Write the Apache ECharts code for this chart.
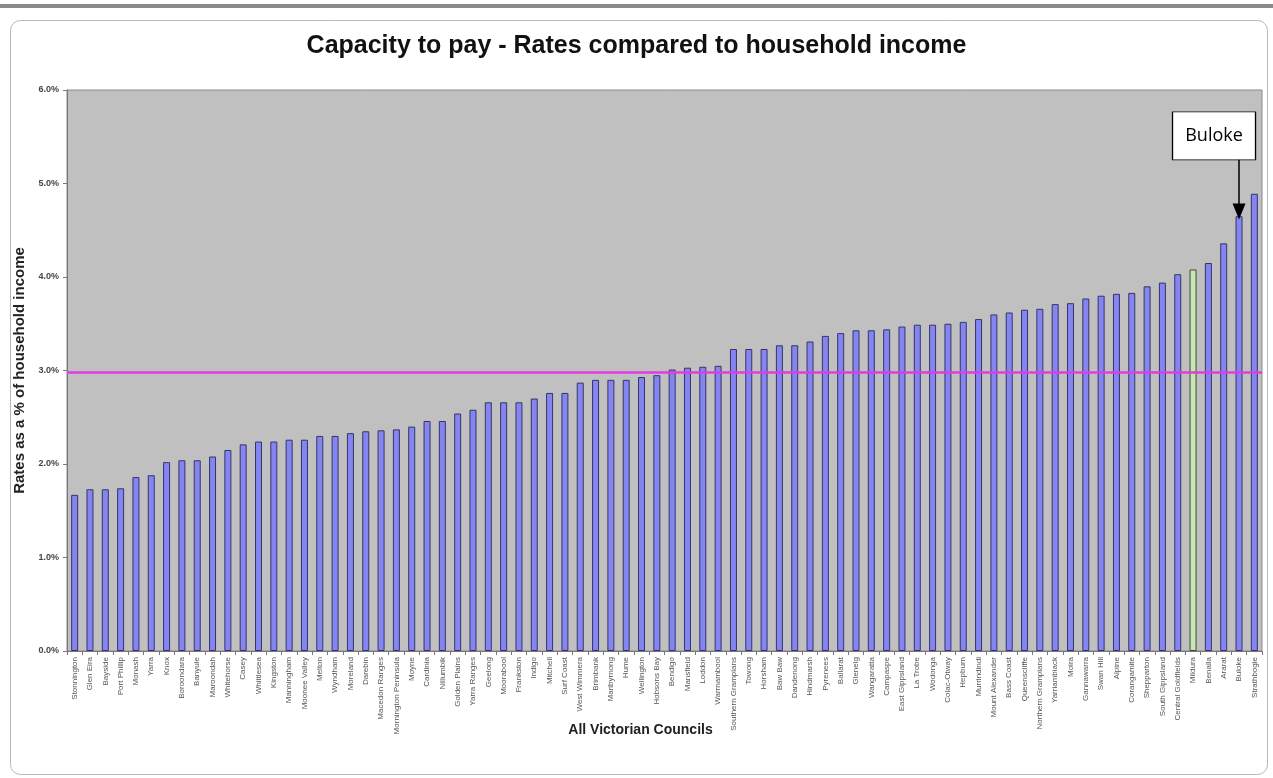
<!DOCTYPE html>
<html>
<head>
<meta charset="utf-8">
<title>Capacity to pay - Rates compared to household income</title>
<script src="https://cdn.jsdelivr.net/npm/echarts@6/dist/echarts.min.js"></script>
<style>
  html, body { margin: 0; padding: 0; background: #ffffff; }
  #chart { width: 1273px; height: 778px; }
</style>
</head>
<body>
<div id="chart"></div>
<script>
// Councils, ordered from lowest to highest rate burden
const councils = [
  'Stonnington', 'Glen Eira', 'Bayside', 'Port Phillip', 'Monash', 'Yarra', 'Knox',
  'Boroondara', 'Banyule', 'Maroondah', 'Whitehorse', 'Casey', 'Whittlesea', 'Kingston',
  'Manningham', 'Moonee Valley', 'Melton', 'Wyndham', 'Moreland', 'Darebin',
  'Macedon Ranges', 'Mornington Peninsula', 'Moyne', 'Cardinia', 'Nillumbik',
  'Golden Plains', 'Yarra Ranges', 'Geelong', 'Moorabool', 'Frankston', 'Indigo',
  'Mitchell', 'Surf Coast', 'West Wimmera', 'Brimbank', 'Maribyrnong', 'Hume',
  'Wellington', 'Hobsons Bay', 'Bendigo', 'Mansfield', 'Loddon', 'Warrnambool',
  'Southern Grampians', 'Towong', 'Horsham', 'Baw Baw', 'Dandenong', 'Hindmarsh',
  'Pyrenees', 'Ballarat', 'Glenelg', 'Wangaratta', 'Campaspe', 'East Gippsland',
  'La Trobe', 'Wodonga', 'Colac-Otway', 'Hepburn', 'Murrindindi', 'Mount Alexander',
  'Bass Coast', 'Queenscliffe', 'Northern Grampians', 'Yarriambiack', 'Moira',
  'Gannawarra', 'Swan Hill', 'Alpine', 'Corangamite', 'Shepparton', 'South Gippsland',
  'Central Goldfields', 'Mildura', 'Benalla', 'Ararat', 'Buloke', 'Strathbogie'
];

// Rates as a percentage of household income
const ratesPct = [
  1.67, 1.73, 1.73, 1.74, 1.86, 1.88, 2.02, 2.04, 2.04, 2.08, 2.15, 2.21, 2.24, 2.24,
  2.26, 2.26, 2.30, 2.30, 2.33, 2.35, 2.36, 2.37, 2.40, 2.46, 2.46, 2.54, 2.58, 2.66,
  2.66, 2.66, 2.70, 2.76, 2.76, 2.87, 2.90, 2.90, 2.90, 2.93, 2.95, 3.01, 3.03, 3.04,
  3.05, 3.23, 3.23, 3.23, 3.27, 3.27, 3.31, 3.37, 3.40, 3.43, 3.43, 3.44, 3.47, 3.49,
  3.49, 3.50, 3.52, 3.55, 3.60, 3.62, 3.65, 3.66, 3.71, 3.72, 3.77, 3.80, 3.82, 3.83,
  3.90, 3.94, 4.03, 4.08, 4.15, 4.36, 4.65, 4.89
];

// State-wide reference level
const averagePct = 2.98;

// Council singled out in the callout
const highlighted = 'Buloke';
// Council drawn in green
const greenCouncil = 'Mildura';

const yTicks = [0, 1, 2, 3, 4, 5, 6];

const chart = echarts.init(document.getElementById('chart'), null, { renderer: 'canvas' });

const barData = councils.map((name, i) => {
  const item = { value: ratesPct[i] };
  if (name === greenCouncil) {
    item.itemStyle = { color: '#C6E7B4', borderColor: '#3E4A30' };
  }
  return item;
});

const hiVal = ratesPct[councils.indexOf(highlighted)];

const option = {
  animation: false,
  backgroundColor: '#ffffff',
  title: {
    text: 'Capacity to pay - Rates compared to household income',
    left: 'center',
    top: 29,
    textStyle: {
      fontFamily: 'Liberation Sans, Arial, sans-serif',
      fontSize: 25,
      fontWeight: 'bold',
      color: '#111111'
    }
  },
  graphic: [
    {
      type: 'rect',
      left: 0, top: 4,
      shape: { width: 1273, height: 4 },
      style: { fill: '#8a8a8a' },
      silent: true
    },
    {
      type: 'rect',
      left: 8, top: 18,
      shape: { width: 1257, height: 754, r: 10 },
      style: { fill: 'none', stroke: '#b8b8b8', lineWidth: 1 },
      silent: true,
      z: -1
    }
  ],
  grid: {
    left: 67,
    right: 11,
    top: 90,
    bottom: 127,
    show: true,
    backgroundColor: '#C0C0C0',
    borderColor: '#8c8c8c',
    borderWidth: 1
  },
  xAxis: {
    type: 'category',
    data: councils,
    name: 'All Victorian Councils',
    nameLocation: 'middle',
    nameGap: 72,
    nameMoveOverlap: false,
    nameTextStyle: {
      fontFamily: 'Liberation Sans, Arial, sans-serif',
      fontSize: 14,
      fontWeight: 'bold',
      color: '#222222',
      padding: [0, 48, 0, 0]
    },
    axisLine: { show: true, lineStyle: { color: '#777777', width: 1 } },
    axisTick: { show: true, length: 4, lineStyle: { color: '#777777' } },
    axisLabel: {
      interval: 0,
      rotate: 90,
      fontSize: 8,
      color: '#555555',
      fontFamily: 'Liberation Sans, Arial, sans-serif',
      margin: 6
    }
  },
  yAxis: {
    type: 'value',
    min: 0,
    max: 6,
    interval: 1,
    name: 'Rates as a % of household income',
    nameLocation: 'middle',
    nameGap: 39,
    nameTextStyle: {
      fontFamily: 'Liberation Sans, Arial, sans-serif',
      fontSize: 15,
      fontWeight: 'bold',
      color: '#222222'
    },
    splitLine: { show: false },
    axisLine: { show: true, lineStyle: { color: '#777777' } },
    axisTick: { show: true, length: 4, inside: false, lineStyle: { color: '#777777' } },
    axisLabel: {
      fontSize: 9,
      fontWeight: 'bold',
      color: '#444444',
      fontFamily: 'Liberation Sans, Arial, sans-serif',
      margin: 8,
      formatter: v => (yTicks.includes(v) ? v.toFixed(1) + '%' : '')
    }
  },
  series: [
    {
      type: 'bar',
      data: barData,
      barWidth: 7,
      itemStyle: {
        color: '#8585F2',
        borderColor: '#34346A',
        borderWidth: 1
      },
      markLine: {
        silent: true,
        symbol: 'none',
        label: { show: false },
        data: [
          {
            yAxis: averagePct,
            lineStyle: { color: '#E03CE0', width: 2.5, type: 'solid' }
          },
          [
            { coord: [highlighted, 5.26], symbol: 'none' },
            {
              coord: [highlighted, hiVal + 0.05],
              symbol: 'triangle',
              symbolSize: [13, 16],
              symbolRotate: 180
            }
          ]
        ],
        lineStyle: { color: '#000000', width: 1.5, type: 'solid' }
      },
      markPoint: {
        silent: true,
        data: [
          {
            coord: [highlighted, 5.51],
            symbol: 'rect',
            symbolSize: [83, 48],
            symbolOffset: [-25, 0],
            itemStyle: { color: '#ffffff', borderColor: '#000000', borderWidth: 1 },
            label: {
              show: true,
              position: 'inside',
              formatter: highlighted,
              fontSize: 18,
              color: '#000000',
              fontFamily: 'Open Sans, Liberation Sans, sans-serif'
            }
          }
        ]
      }
    }
  ]
};

chart.setOption(option);
</script>
</body>
</html>
